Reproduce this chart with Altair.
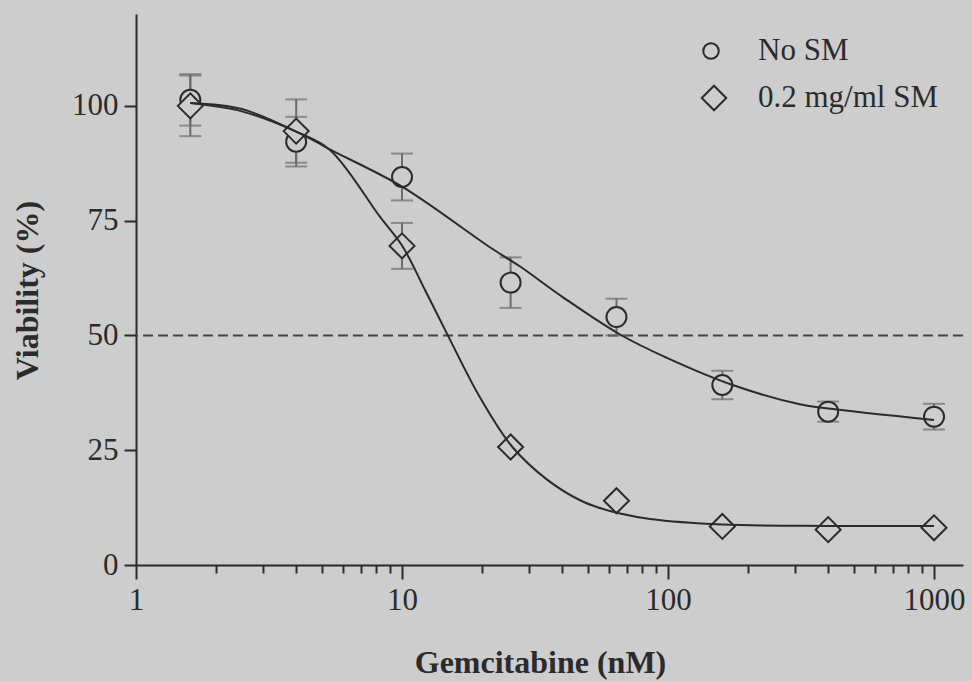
import altair as alt
import pandas as pd

# ---------------- data ----------------
conc = [1.6, 4, 10, 25.6, 64, 160, 400, 1000]
series_names = ["No SM", "0.2 mg/ml SM"]
series_shapes = ["circle", "diamond"]

nosm_mean = [101.3, 92.2, 84.5, 61.5, 54.0, 39.2, 33.4, 32.3]
nosm_err = [5.6, 5.4, 5.1, 5.5, 4.0, 3.1, 2.2, 2.8]
sm_mean = [100.0, 94.5, 69.5, 25.7, 14.0, 8.4, 7.7, 8.1]
sm_err = [6.6, 6.9, 5.0, 0, 0, 0, 0, 0]

# fitted curves
nosm_curve_x = [1.6, 2.5, 4, 5.4, 10, 21.4, 27.8, 40.3, 66, 100, 175, 313, 400, 1000]
nosm_curve_y = [100.6, 98.8, 94.4, 90.4, 82.4, 69.2, 65.0, 58.3, 50.2, 45.0, 39.2, 35.0, 34.1, 31.6]
sm_curve_x = [1.6, 2.5, 4, 5.36, 8.27, 10, 12.2, 14.9, 19.6, 26, 35.1, 46.7, 55.5, 66, 85.6, 160, 400, 1000]
sm_curve_y = [100.6, 99.3, 94.4, 90.4, 75.8, 69.6, 59.9, 49.9, 36.6, 25.7, 18.6, 14.1, 12.4, 11.2, 10.0, 8.8, 8.5, 8.5]

ref_line = [50]
x_ticks = [1, 2, 3, 4, 5, 6, 7, 8, 9, 10, 20, 30, 40, 50, 60, 70, 80, 90,
           100, 200, 300, 400, 500, 600, 700, 800, 900, 1000]
y_ticks = [0, 25, 50, 75, 100]

# ---------------- tables ----------------
pts = pd.DataFrame({
    "conc": conc + conc,
    "viab": nosm_mean + sm_mean,
    "err": nosm_err + sm_err,
    "series": [series_names[0]] * len(conc) + [series_names[1]] * len(conc),
})
pts["lo"] = pts["viab"] - pts["err"]
pts["hi"] = pts["viab"] + pts["err"]
caps = pd.concat([
    pts[["conc", "series", "err"]].assign(v=pts["lo"]),
    pts[["conc", "series", "err"]].assign(v=pts["hi"]),
])
caps = caps[caps["err"] > 0]
curves = pd.DataFrame({
    "conc": nosm_curve_x + sm_curve_x,
    "viab": nosm_curve_y + sm_curve_y,
    "series": [series_names[0]] * len(nosm_curve_x) + [series_names[1]] * len(sm_curve_x),
})
ref = pd.DataFrame({"v": ref_line})
legend_df = pd.DataFrame({"series": series_names})

# ---------------- style ----------------
BG = "#cdcdcd"
DARK = "#2b2b2b"
GREY = "#6c6c6c"
FONT = "Liberation Serif"

is_major = "indexof([1,10,100,1000], datum.value) >= 0"

xscale = alt.Scale(type="log", domain=[1, 1285], nice=False)
yscale = alt.Scale(domain=[0, 120], nice=False)

xaxis = alt.Axis(
    values=x_ticks,
    labelExpr=f"{is_major} ? format(datum.value, 'd') : ''",
    tickSize={"condition": {"test": is_major, "value": 14}, "value": 8},
    labelPadding=6,
    labelOverlap=False,
    labelFlush=False,
    labelFontSize=31,
    title="Gemcitabine (nM)",
    titleFontSize=32,
    titleFontWeight="bold",
    titleX=404,
    titleY=107,
    titleBaseline="alphabetic",
    grid=False,
)
yaxis = alt.Axis(
    values=y_ticks,
    tickSize=12,
    labelPadding=6,
    labelFontSize=31,
    title="Viability (%)",
    titleFontSize=32,
    titleFontWeight="bold",
    titleX=-99,
    titleY=276,
    titleBaseline="alphabetic",
    grid=False,
)

X = alt.X("conc:Q", scale=xscale, axis=xaxis)
shape_scale = alt.Scale(domain=series_names, range=series_shapes)
size_scale = alt.Scale(domain=series_names, range=[400, 625])

dashed = alt.Chart(ref).mark_rule(
    color="#444444", strokeWidth=2, strokeDash=[10, 5]
).encode(y=alt.Y("v:Q", scale=yscale, axis=yaxis))

bars = alt.Chart(pts).mark_rule(color=GREY, strokeWidth=2).encode(
    x=X, y=alt.Y("lo:Q", scale=yscale, axis=yaxis), y2="hi:Q"
)
capmarks = alt.Chart(caps).mark_tick(
    orient="horizontal", size=22, thickness=2, color=GREY
).encode(x=X, y=alt.Y("v:Q", scale=yscale, axis=yaxis))

points = alt.Chart(pts).mark_point(
    filled=False, color=DARK, fill=BG, fillOpacity=1, strokeWidth=2, opacity=1
).encode(
    x=X,
    y=alt.Y("viab:Q", scale=yscale, axis=yaxis),
    shape=alt.Shape("series:N", scale=shape_scale, legend=None),
    size=alt.Size("series:N", scale=size_scale, legend=None),
)

lines = alt.Chart(curves).mark_line(
    color=DARK, strokeWidth=2, interpolate="catmull-rom"
).encode(
    x=X, y=alt.Y("viab:Q", scale=yscale, axis=yaxis), detail="series:N"
)

# ---------------- legend (drawn as marks) ----------------
legend_layers = []
legend_rows = [(series_names[0], "circle", 240, 575, 37),
               (series_names[1], "diamond", 600, 578, 84)]
for name, shp, sz, sx, sy in legend_rows:
    base = alt.Chart(legend_df).transform_filter(alt.datum.series == name)
    legend_layers.append(base.mark_point(
        filled=False, color=DARK, fill=BG, fillOpacity=1, strokeWidth=2,
        opacity=1, shape=shp, size=sz
    ).encode(x=alt.value(sx), y=alt.value(sy)))
    legend_layers.append(base.mark_text(
        align="left", baseline="middle", font=FONT, fontSize=31, color=DARK
    ).encode(x=alt.value(622), y=alt.value(sy), text="series:N"))

chart = alt.layer(dashed, bars, capmarks, points, lines, *legend_layers).properties(
    width=827,
    height=551,
    padding={"left": 136, "top": 14, "right": 9, "bottom": 116},
    autosize=alt.AutoSizeParams(type="none"),
    background=BG,
).configure_view(stroke=None).configure_axis(
    domainColor=DARK, domainWidth=2, tickColor=DARK, tickWidth=2,
    labelColor=DARK, titleColor=DARK, labelFont=FONT, titleFont=FONT,
)

chart.save("out.html", embed_options={"renderer": "svg", "actions": False})
